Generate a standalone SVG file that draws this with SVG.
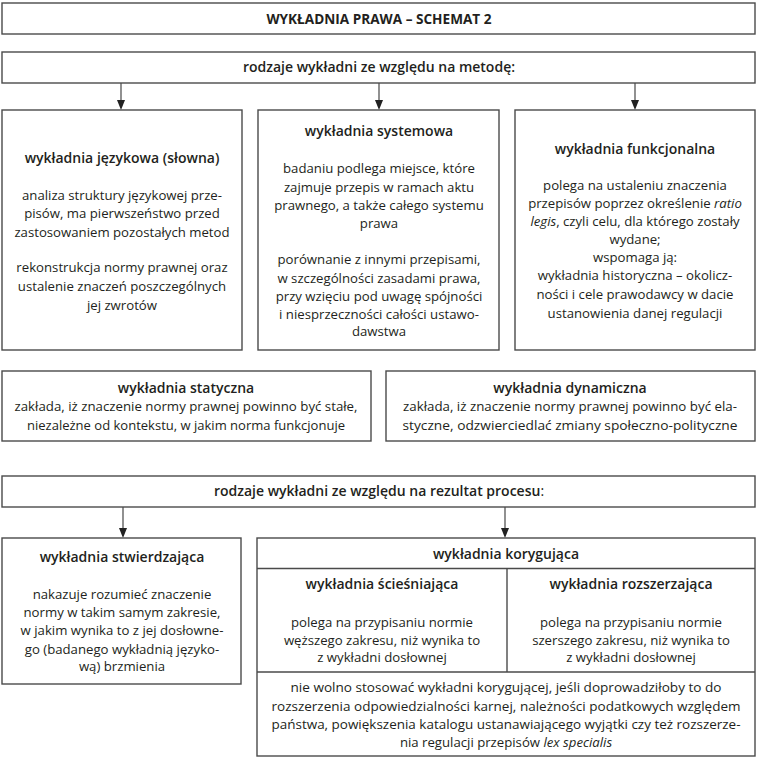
<svg xmlns="http://www.w3.org/2000/svg" width="758" height="760" viewBox="0 0 758 760">
<defs>
<style>
.box{fill:#fff;stroke:#4a4a4a;stroke-width:1.4}
.ln{fill:none;stroke:#4a4a4a;stroke-width:1.4}
.con{fill:none;stroke:#555;stroke-width:1.3}
.ah{fill:#222}
text{font-family:"Open Sans","Noto Sans","Liberation Sans",sans-serif;font-size:13.2px;fill:#231f20;text-anchor:middle}
.h{font-weight:600;font-size:14px}
.t{font-weight:700;font-size:13.6px}
.i{font-style:italic}
.n{font-weight:400}
</style>
</defs>
<rect width="758" height="760" fill="#fff"/>

<g id="connectors">
<line class="con" x1="121" y1="83" x2="121" y2="102"/>
<line class="con" x1="379" y1="83" x2="379" y2="102"/>
<line class="con" x1="635" y1="83" x2="635" y2="102"/>
<line class="con" x1="123" y1="507" x2="123" y2="530"/>
<line class="con" x1="505" y1="507" x2="505" y2="530"/>
<path class="ah" d="M117,100 L125,100 L121,110 Z"/>
<path class="ah" d="M375,100 L383,100 L379,110 Z"/>
<path class="ah" d="M631,100 L639,100 L635,110 Z"/>
<path class="ah" d="M119,528 L127,528 L123,538 Z"/>
<path class="ah" d="M501,528 L509,528 L505,538 Z"/>
</g>

<g id="title">
<rect class="box" x="2" y="3" width="753" height="31"/>
<text class="t" x="379" y="23.5">WYKŁADNIA PRAWA – SCHEMAT 2</text>
</g>

<g id="metoda">
<rect class="box" x="2" y="52" width="753" height="31"/>
<text class="h" x="379" y="72">rodzaje wykładni ze względu na metodę:</text>
</g>

<g id="jezykowa">
<rect class="box" x="2" y="110" width="240" height="240"/>
<text class="h" x="122" y="163">wykładnia językowa (słowna)</text>
<text x="122" y="199.5">analiza struktury językowej prze-</text>
<text x="122" y="218">pisów, ma pierwszeństwo przed</text>
<text x="122" y="236.5">zastosowaniem pozostałych metod</text>
<text x="122" y="272">rekonstrukcja normy prawnej oraz</text>
<text x="122" y="291">ustalenie znaczeń poszczególnych</text>
<text x="122" y="309.5">jej zwrotów</text>
</g>

<g id="systemowa">
<rect class="box" x="258" y="110" width="241" height="240"/>
<text class="h" x="379" y="136">wykładnia systemowa</text>
<text x="379" y="172.5">badaniu podlega miejsce, które</text>
<text x="379" y="191.5">zajmuje przepis w ramach aktu</text>
<text x="379" y="210">prawnego, a także całego systemu</text>
<text x="379" y="228">prawa</text>
<text x="379" y="263.5">porównanie z innymi przepisami,</text>
<text x="379" y="282.5">w szczególności zasadami prawa,</text>
<text x="379" y="301">przy wzięciu pod uwagę spójności</text>
<text x="379" y="318.5">i niesprzeczności całości ustawo-</text>
<text x="379" y="336">dawstwa</text>
</g>

<g id="funkcjonalna">
<rect class="box" x="515" y="110" width="240" height="240"/>
<text class="h" x="635" y="154">wykładnia funkcjonalna</text>
<text x="635" y="190">polega na ustaleniu znaczenia</text>
<text x="635" y="208">przepisów poprzez określenie <tspan class="i">ratio</tspan></text>
<text x="635" y="226"><tspan class="i">legis</tspan>, czyli celu, dla którego zostały</text>
<text x="635" y="244">wydane;</text>
<text x="635" y="262">wspomaga ją:</text>
<text x="635" y="280">wykładnia historyczna – okolicz-</text>
<text x="635" y="299">ności i cele prawodawcy w dacie</text>
<text x="635" y="317.5">ustanowienia danej regulacji</text>
</g>

<g id="statyczna">
<rect class="box" x="2" y="371" width="369" height="70"/>
<text class="h" x="186" y="392.5">wykładnia statyczna</text>
<text x="186" y="411" textLength="343" lengthAdjust="spacingAndGlyphs">zakłada, iż znaczenie normy prawnej powinno być stałe,</text>
<text x="186" y="429.5" textLength="318" lengthAdjust="spacingAndGlyphs">niezależne od kontekstu, w jakim norma funkcjonuje</text>
</g>

<g id="dynamiczna">
<rect class="box" x="386" y="371" width="369" height="70"/>
<text class="h" x="570" y="392.5">wykładnia dynamiczna</text>
<text x="570" y="411" textLength="334" lengthAdjust="spacingAndGlyphs">zakłada, iż znaczenie normy prawnej powinno być ela-</text>
<text x="570" y="429.5" textLength="335" lengthAdjust="spacingAndGlyphs">styczne, odzwierciedlać zmiany społeczno-polityczne</text>
</g>

<g id="rezultat">
<rect class="box" x="2" y="476" width="753" height="31"/>
<text class="h" x="379" y="496">rodzaje wykładni ze względu na rezultat procesu<tspan class="n">:</tspan></text>
</g>

<g id="stwierdzajaca">
<rect class="box" x="2" y="538" width="239" height="146"/>
<text class="h" x="122" y="562">wykładnia stwierdzająca</text>
<text x="122" y="599">nakazuje rozumieć znaczenie</text>
<text x="122" y="616.5">normy w takim samym zakresie,</text>
<text x="122" y="635">w jakim wynika to z jej dosłowne-</text>
<text x="122" y="653.5">go (badanego wykładnią języko-</text>
<text x="122" y="671">wą) brzmienia</text>
</g>

<g id="korygujaca">
<rect class="box" x="257" y="538" width="498" height="218"/>
<line class="ln" x1="257" y1="568.5" x2="755" y2="568.5"/>
<line class="ln" x1="507" y1="568.5" x2="507" y2="672"/>
<line class="ln" x1="257" y1="672" x2="755" y2="672"/>
<text class="h" x="506" y="559">wykładnia korygująca</text>
<text x="506" y="692" textLength="431" lengthAdjust="spacingAndGlyphs">nie wolno stosować wykładni korygującej, jeśli doprowadziłoby to do</text>
<text x="506" y="710.5" textLength="469" lengthAdjust="spacingAndGlyphs">rozszerzenia odpowiedzialności karnej, należności podatkowych względem</text>
<text x="506" y="729" textLength="469" lengthAdjust="spacingAndGlyphs">państwa, powiększenia katalogu ustanawiającego wyjątki czy też rozszerze-</text>
<text x="506" y="747">nia regulacji przepisów <tspan class="i">lex specialis</tspan></text>
</g>

<g id="sciesniajaca">
<text class="h" x="382" y="589">wykładnia ścieśniająca</text>
<text x="382" y="626.5">polega na przypisaniu normie</text>
<text x="382" y="644.5">węższego zakresu, niż wynika to</text>
<text x="382" y="662">z wykładni dosłownej</text>
</g>

<g id="rozszerzajaca">
<text class="h" x="631" y="589">wykładnia rozszerzająca</text>
<text x="631" y="626.5">polega na przypisaniu normie</text>
<text x="631" y="644.5">szerszego zakresu, niż wynika to</text>
<text x="631" y="662">z wykładni dosłownej</text>
</g>
</svg>
